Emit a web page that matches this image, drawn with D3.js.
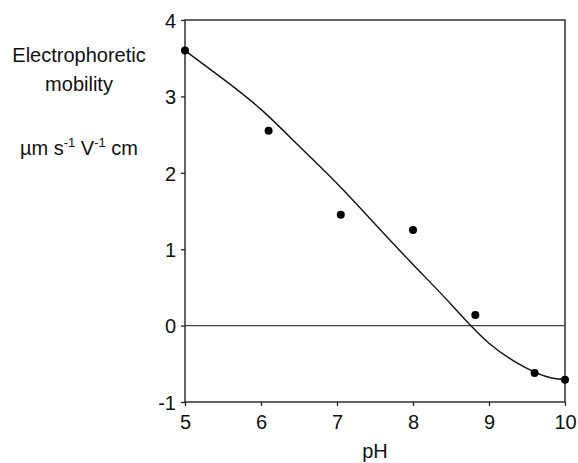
<!DOCTYPE html>
<html>
<head>
<meta charset="utf-8">
<script src="https://cdn.jsdelivr.net/npm/d3@7"></script>
<style>
body{margin:0;background:#fff;}
text{font-family:"Liberation Sans",Arial,sans-serif;fill:#111;}
</style>
</head>
<body>
<svg id="chart" width="578" height="463"></svg>
<script>
// measured points
var pointPH=[5,6.1,7.05,8.0,8.82,9.6,10];
var pointMob=[3.6,2.55,1.45,1.25,0.14,-0.62,-0.71];
// fitted curve
var curvePH=[5,5.5,6,6.5,7,7.5,8,8.5,9,9.5,9.8,10];
var curveMob=[3.6,3.23,2.83,2.35,1.86,1.33,0.8,0.28,-0.23,-0.56,-0.68,-0.71];
var xTicks=[5,6,7,8,9,10];
var yTicks=[-1,0,1,2,3,4];

var svg=d3.select("#chart");
var plotL=185,plotR=565,plotT=20,plotB=402;

var x=d3.scaleLinear().domain([5,10]).range([plotL,plotR]);
var y=d3.scaleLinear().domain([-1,4]).range([plotB,plotT]);

// frame
svg.append("rect").attr("x",plotL).attr("y",plotT).attr("width",plotR-plotL).attr("height",plotB-plotT)
    .style("fill","none").style("stroke","#222").style("stroke-width",1.4)

// zero line
svg.append("line").attr("x1",x(5)).attr("x2",x(10)).attr("y1",y(0)).attr("y2",y(0))
    .style("stroke","#444").style("stroke-width",1.1)

var yAxis=svg.append("g").attr("transform","translate("+plotL+",0)")
    .call(d3.axisLeft(y).tickValues(yTicks).tickSize(4).tickFormat(function(d){return String(d)}))
yAxis.select(".domain").remove()
yAxis.selectAll("line").style("stroke","#222").style("stroke-width",1.3)
yAxis.selectAll("text").style("font-size","20px").attr("x",-9).attr("dy","0.36em")

var xAxis=svg.append("g").attr("transform","translate(0,"+plotB+")")
    .call(d3.axisBottom(x).tickValues(xTicks).tickSize(4).tickFormat(function(d){return String(d)}))
xAxis.select(".domain").remove()
xAxis.selectAll("line").style("stroke","#222").style("stroke-width",1.3)
xAxis.selectAll("text").style("font-size","20px").attr("y",13).attr("dy","0.72em")

// curve
var line=d3.line().x(function(d){return x(d[0])}).y(function(d){return y(d[1])}).curve(d3.curveNatural)
svg.append("path").datum(d3.zip(curvePH,curveMob)).attr("d",line)
    .style("fill","none").style("stroke","#111").style("stroke-width",1.4)

// points
svg.selectAll(".point").data(d3.zip(pointPH,pointMob)).enter().append("circle").attr("class","point")
    .attr("cx",function(d){return x(d[0])}).attr("cy",function(d){return y(d[1])}).attr("r",4)
    .style("fill","#000")

// axis titles
svg.append("text").attr("x",79).attr("y",62).attr("text-anchor","middle").style("font-size","20px").text("Electrophoretic")
svg.append("text").attr("x",79).attr("y",91).attr("text-anchor","middle").style("font-size","20px").text("mobility")
var unit=svg.append("text").attr("x",79).attr("y",155).attr("text-anchor","middle").style("font-size","20px")
unit.append("tspan").text("\u00b5m s")
unit.append("tspan").attr("dy",-8).style("font-size","13px").text("-1")
unit.append("tspan").attr("dy",8).text(" V")
unit.append("tspan").attr("dy",-8).style("font-size","13px").text("-1")
unit.append("tspan").attr("dy",8).text(" cm")

svg.append("text").attr("x",375).attr("y",458).attr("text-anchor","middle").style("font-size","20px").text("pH")
</script>
</body>
</html>
